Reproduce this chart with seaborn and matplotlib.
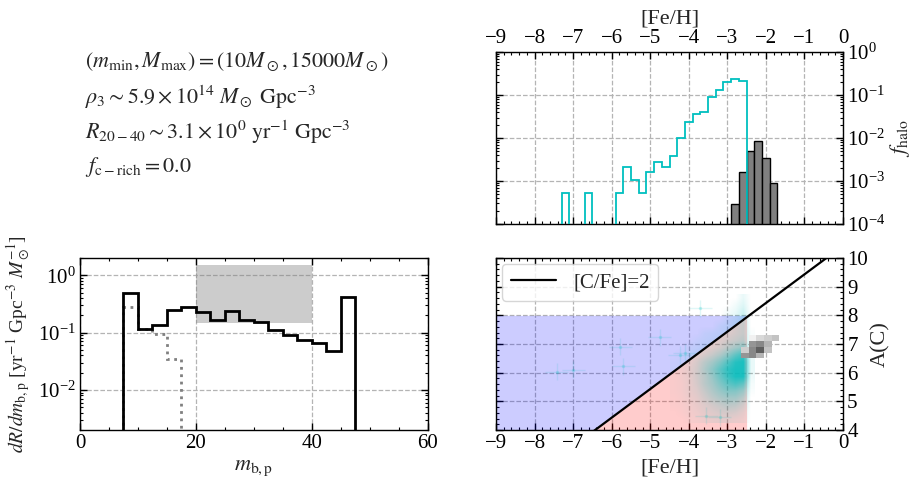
import matplotlib
matplotlib.use('Agg')
import matplotlib.pyplot as plt
import numpy as np
import seaborn as sns
from matplotlib.colors import to_rgb
from matplotlib.ticker import MultipleLocator, LogLocator, NullFormatter

# ---- values ----
m_min, m_max = 10, 15000
rho3_mant, rho3_exp = 5.9, 14
r2040_mant, r2040_exp = 3.1, 0
f_crich = 0.0

# top right: halo metallicity distribution
halo_edges = np.round(np.arange(-7.3, -2.4, 0.2), 2)
halo_frac = [5.3e-4, 0, 0, 5.3e-4, 0, 0, 0, 5.3e-4, 2.15e-3, 1.05e-3,
             5.3e-4, 1.6e-3, 2.7e-3, 2.15e-3, 3.8e-3, 9.8e-3, 2.3e-2, 3.56e-2,
             4.0e-2, 9.0e-2, 0.133, 0.20, 0.23, 0.21]
rich_edges = np.round(np.arange(-2.9, -1.6, 0.2), 2)
rich_frac = [2.9e-4, 1.6e-3, 5.0e-3, 8.3e-3, 3.5e-3, 8.8e-4]

# bottom left: merger rate vs primary mass
mass_edges = np.arange(7.5, 50, 2.5)
rate_all = [0.49, 0.116, 0.136, 0.25, 0.28, 0.23, 0.164, 0.235, 0.169,
            0.151, 0.111, 0.09, 0.073, 0.066, 0.047, 0.42]
pop3_edges = mass_edges[:5]
rate_pop3 = [0.28, 0.116, 0.096, 0.035]
obs_mass = [20, 40]
obs_rate = [0.15, 1.5]

# bottom right: A(C) vs [Fe/H]
cfe_limit = 2
ac_sun = 8.43
feh_box = [-9, -2.5]
ac_box = [4, 8]

# density of the simulated stars (rows: A(C) 4.25 -> 8.75, cols: [Fe/H] -4.5 -> -2.3)
cloud_feh_edges = np.round(np.arange(-4.5, -2.2, 0.2), 2)
cloud_ac_edges = np.arange(4.25, 8.8, 0.25)
cloud = [
    [0, 0, 0.03, 0.05, 0.08, 0.10, 0.12, 0.12, 0.10, 0.08, 0],
    [0, 0.02, 0.05, 0.08, 0.12, 0.15, 0.18, 0.20, 0.18, 0.12, 0],
    [0.02, 0.03, 0.06, 0.10, 0.15, 0.20, 0.25, 0.30, 0.28, 0.20, 0],
    [0.02, 0.04, 0.08, 0.12, 0.20, 0.28, 0.35, 0.40, 0.40, 0.30, 0],
    [0.03, 0.05, 0.10, 0.15, 0.25, 0.35, 0.45, 0.55, 0.55, 0.45, 0.03],
    [0.03, 0.05, 0.10, 0.18, 0.30, 0.40, 0.55, 0.70, 0.80, 0.70, 0.05],
    [0.03, 0.06, 0.10, 0.20, 0.30, 0.45, 0.65, 0.85, 1.00, 1.00, 0.08],
    [0.04, 0.06, 0.12, 0.20, 0.35, 0.50, 0.70, 0.90, 1.00, 1.00, 0.10],
    [0.03, 0.05, 0.10, 0.18, 0.30, 0.40, 0.55, 0.75, 0.95, 1.00, 0.10],
    [0, 0.04, 0.08, 0.12, 0.18, 0.25, 0.35, 0.50, 0.70, 0.85, 0.08],
    [0, 0, 0.05, 0.08, 0.12, 0.15, 0.20, 0.30, 0.40, 0.50, 0.05],
    [0, 0, 0, 0.05, 0.08, 0.10, 0.15, 0.20, 0.25, 0.30, 0.03],
    [0, 0, 0, 0, 0.06, 0.08, 0.10, 0.15, 0.20, 0.25, 0.03],
    [0, 0, 0, 0, 0, 0, 0.08, 0.12, 0.18, 0.25, 0],
    [0, 0, 0, 0, 0, 0, 0, 0.08, 0.15, 0.25, 0],
    [0, 0, 0, 0, 0, 0, 0, 0.05, 0.10, 0.22, 0],
    [0, 0, 0, 0, 0, 0, 0, 0, 0.06, 0.15, 0],
    [0, 0, 0, 0, 0, 0, 0, 0, 0, 0.10, 0],
]
sparse_feh = [-7.43, -7.0, -5.78, -5.70, -4.75, -4.23, -4.10, -3.70, -3.55, -3.2]
sparse_ac = [6.03, 6.10, 6.90, 6.22, 7.23, 6.62, 6.70, 8.25, 4.5, 4.45]

# observed C-rich stars, 2D histogram (rows: A(C) 6.5 -> 7.3, cols: [Fe/H] -2.65 -> -1.65)
obs_feh_edges = np.round(np.arange(-2.65, -1.6, 0.2), 2)
obs_ac_edges = np.round(np.arange(6.5, 7.35, 0.2), 2)
obs_cells = [
    [0.50, 0.55, 0.40, 0, 0],
    [0.30, 0.55, 0.70, 0.35, 0],
    [0, 0.50, 0.55, 0.40, 0],
    [0, 0.12, 0.25, 0.30, 0.35],
]

# ---- style ----
sns.set_style('ticks')
plt.rcParams['font.family'] = ['Liberation Serif', 'DejaVu Serif']
plt.rcParams['mathtext.fontset'] = 'stix'
plt.rcParams['axes.linewidth'] = 1.0
plt.rcParams['axes.edgecolor'] = 'black'
fs = 15
fl = 16

fig = plt.figure(figsize=(9.17, 4.83), dpi=100)
ax_h = fig.add_axes([0.5409, 0.5362, 0.3784, 0.3561])
ax_r = fig.add_axes([0.0872, 0.1097, 0.3795, 0.3561])
ax_c = fig.add_axes([0.5409, 0.1097, 0.3784, 0.3561])


def style(ax):
    ax.tick_params(which='both', direction='in', top=True, bottom=True,
                   left=True, right=True, labelsize=fs, colors='black')
    ax.tick_params(which='major', length=5, width=1, pad=3)
    ax.tick_params(which='minor', length=2.5, width=0.8)
    ax.grid(True, which='major', ls='--', color='#b4b4b4', lw=0.9)


# ---- parameter text ----
lines = [
    r'$(m_{\rm min}, M_{\rm max}) = (%d M_\odot, %d M_\odot)$' % (m_min, m_max),
    r'$\rho_3 \sim %.1f \times 10^{%d}\ M_\odot\ {\rm Gpc}^{-3}$' % (rho3_mant, rho3_exp),
    r'$R_{20-40} \sim %.1f \times 10^{%d}\ {\rm yr}^{-1}\ {\rm Gpc}^{-3}$' % (r2040_mant, r2040_exp),
    r'$f_{\rm c-rich} = %.1f$' % f_crich,
]
for i, t in enumerate(lines):
    fig.text(0.0927, 0.8716 - i * 0.0725, t, fontsize=15.8, va='center', ha='left')

# ---- top right: f_halo ----
halo_draw = np.where(np.array(halo_frac) > 0, halo_frac, 1e-9)
ax_h.stairs(halo_draw, halo_edges, baseline=1e-9, color='c', lw=1.3, zorder=3)
rich_centers = 0.5 * (rich_edges[1:] + rich_edges[:-1])
sns.histplot(x=rich_centers, weights=rich_frac, bins=list(rich_edges), ax=ax_h,
             color='gray', alpha=1, edgecolor='black', linewidth=1, zorder=2)
ax_h.set_yscale('log')
ax_h.set_xlim(-9, 0)
ax_h.set_ylim(1e-4, 1)
style(ax_h)
ax_h.tick_params(labeltop=True, labelbottom=False, labelleft=False, labelright=True)
ax_h.xaxis.set_label_position('top')
ax_h.yaxis.set_label_position('right')
ax_h.set_xlabel('[Fe/H]', fontsize=fl)
ax_h.set_ylabel(r'$f_{\rm halo}$', fontsize=fl, labelpad=2)
ax_h.xaxis.set_major_locator(MultipleLocator(1))
ax_h.xaxis.set_minor_locator(MultipleLocator(0.2))
ax_h.yaxis.set_minor_locator(LogLocator(subs=np.arange(2, 10)))
ax_h.yaxis.set_minor_formatter(NullFormatter())

# ---- bottom left: merger rate ----
ax_r.fill_between(obs_mass, obs_rate[0], obs_rate[1], color='gray', alpha=0.4, lw=0, zorder=1)
ax_r.stairs(rate_pop3, pop3_edges, baseline=1e-9, color='gray', lw=2, ls=':', zorder=3)
ax_r.stairs(rate_all, mass_edges, baseline=1e-9, color='black', lw=2, zorder=4)
ax_r.set_yscale('log')
ax_r.set_xlim(0, 60)
ax_r.set_ylim(2e-3, 2)
style(ax_r)
ax_r.xaxis.set_major_locator(MultipleLocator(20))
ax_r.xaxis.set_minor_locator(MultipleLocator(5))
ax_r.yaxis.set_minor_locator(LogLocator(subs=np.arange(2, 10)))
ax_r.yaxis.set_minor_formatter(NullFormatter())
ax_r.set_xlabel(r'$m_{\rm b,p}$', fontsize=fl)
ax_r.set_ylabel(r'$dR/dm_{\rm b,p}$ [yr$^{-1}$ Gpc$^{-3}$ $M_\odot^{-1}$]', fontsize=14)

# ---- bottom right: A(C) vs [Fe/H] ----
x_break = ac_box[0] - cfe_limit - ac_sun
xs = np.array([feh_box[0], x_break, feh_box[1]])
line_at = np.clip(xs + cfe_limit + ac_sun, ac_box[0], ac_box[1])
ax_c.fill_between(xs, line_at, ac_box[1], color='b', alpha=0.2, lw=0, zorder=1)
ax_c.fill_between(xs, ac_box[0], line_at, color='r', alpha=0.2, lw=0, zorder=1)

rgba = np.zeros(np.shape(cloud) + (4,))
rgba[..., :3] = to_rgb('c')
rgba[..., 3] = np.array(cloud) * 0.9
ax_c.imshow(rgba, origin='lower', aspect='auto', interpolation='bilinear',
            extent=(cloud_feh_edges[0], cloud_feh_edges[-1], cloud_ac_edges[0], cloud_ac_edges[-1]),
            zorder=2)
ax_c.errorbar(sparse_feh, sparse_ac, xerr=0.3, yerr=0.3, fmt='none', ecolor='c', alpha=0.12, lw=1, zorder=2)
sns.scatterplot(x=sparse_feh, y=sparse_ac, ax=ax_c, color='c', alpha=0.2, s=6, lw=0, zorder=2)

cells = np.ma.masked_equal(np.array(obs_cells), 0)
ax_c.pcolormesh(obs_feh_edges, obs_ac_edges, cells, cmap='Greys', vmin=0, vmax=1, zorder=3)

feh_line = np.array([-9, 0])
sns.lineplot(x=feh_line, y=feh_line + cfe_limit + ac_sun, ax=ax_c, color='black', lw=1.6,
             label='[C/Fe]=%d' % cfe_limit, zorder=4)
ax_c.set_xlim(-9, 0)
ax_c.set_ylim(4, 10)
style(ax_c)
ax_c.tick_params(labelleft=False, labelright=True)
ax_c.yaxis.set_label_position('right')
ax_c.xaxis.set_major_locator(MultipleLocator(1))
ax_c.xaxis.set_minor_locator(MultipleLocator(0.2))
ax_c.yaxis.set_major_locator(MultipleLocator(1))
ax_c.yaxis.set_minor_locator(MultipleLocator(0.2))
ax_c.set_xlabel('[Fe/H]', fontsize=fl)
ax_c.set_ylabel('A(C)', fontsize=fl, labelpad=2)
ax_c.legend(loc='upper left', fontsize=15, frameon=True, handlelength=2.2,
            borderaxespad=0.3)

fig.savefig('out.png', dpi=100)
